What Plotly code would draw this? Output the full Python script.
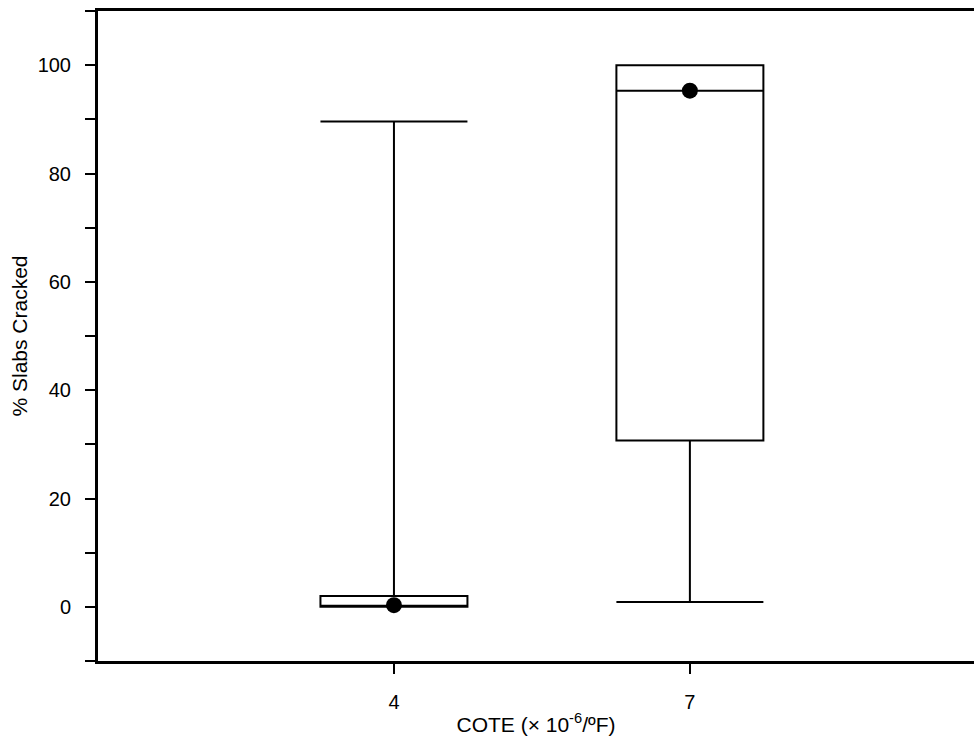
import plotly.graph_objects as go

# Data
cote = [4, 7]
q1 = [0.0, 30.7]
median = [0.0, 95.3]
q3 = [2.0, 100.0]
lower = [0.0, 0.9]
upper = [89.6, 100.0]
means = [0.3, 95.3]
tick_labels = ["4", "7"]

FONT = "Liberation Sans, Arial, sans-serif"

fig = go.Figure()
fig.add_trace(go.Box(
    x=cote, q1=q1, median=median, q3=q3,
    lowerfence=lower, upperfence=upper,
    width=1.49, whiskerwidth=1,
    line=dict(color="black", width=2),
    fillcolor="rgba(0,0,0,0)",
    boxpoints=False, showlegend=False, hoverinfo="skip",
))
fig.add_trace(go.Scatter(
    x=cote, y=means, mode="markers",
    marker=dict(color="black", size=16),
    showlegend=False, hoverinfo="skip",
))

fig.update_layout(
    width=974, height=752,
    margin=dict(l=98, r=0, t=11, b=91, autoexpand=False),
    plot_bgcolor="white", paper_bgcolor="white",
    font=dict(family=FONT, size=20, color="black"),
)
fig.update_xaxes(
    type="linear", range=[1, 9.88], automargin=False,
    tickvals=cote, ticktext=tick_labels,
    ticks="outside", ticklen=10, tickwidth=2, tickcolor="black",
    ticklabelstandoff=11,
    showline=True, linewidth=3, linecolor="black", mirror=True,
    showgrid=False, zeroline=False,
    title=dict(text="COTE (× 10<sup>-6</sup>/ºF)", standoff=6,
               font=dict(size=21)),
)
fig.update_yaxes(
    range=[-10, 110], tick0=0, dtick=20, automargin=False,
    ticks="outside", ticklen=10, tickwidth=2, tickcolor="black",
    ticklabelstandoff=10,
    minor=dict(dtick=10, tick0=0, ticks="outside", ticklen=10,
               tickwidth=2, tickcolor="black", showgrid=False),
    showline=True, linewidth=3, linecolor="black",
    showgrid=False, zeroline=False,
    title=dict(text="% Slabs Cracked", standoff=5, font=dict(size=21)),
)

fig.write_html(
    "out.html",
    config={"displayModeBar": False},
    post_script="document.body.style.margin='0';document.body.style.overflow='hidden';",
)
